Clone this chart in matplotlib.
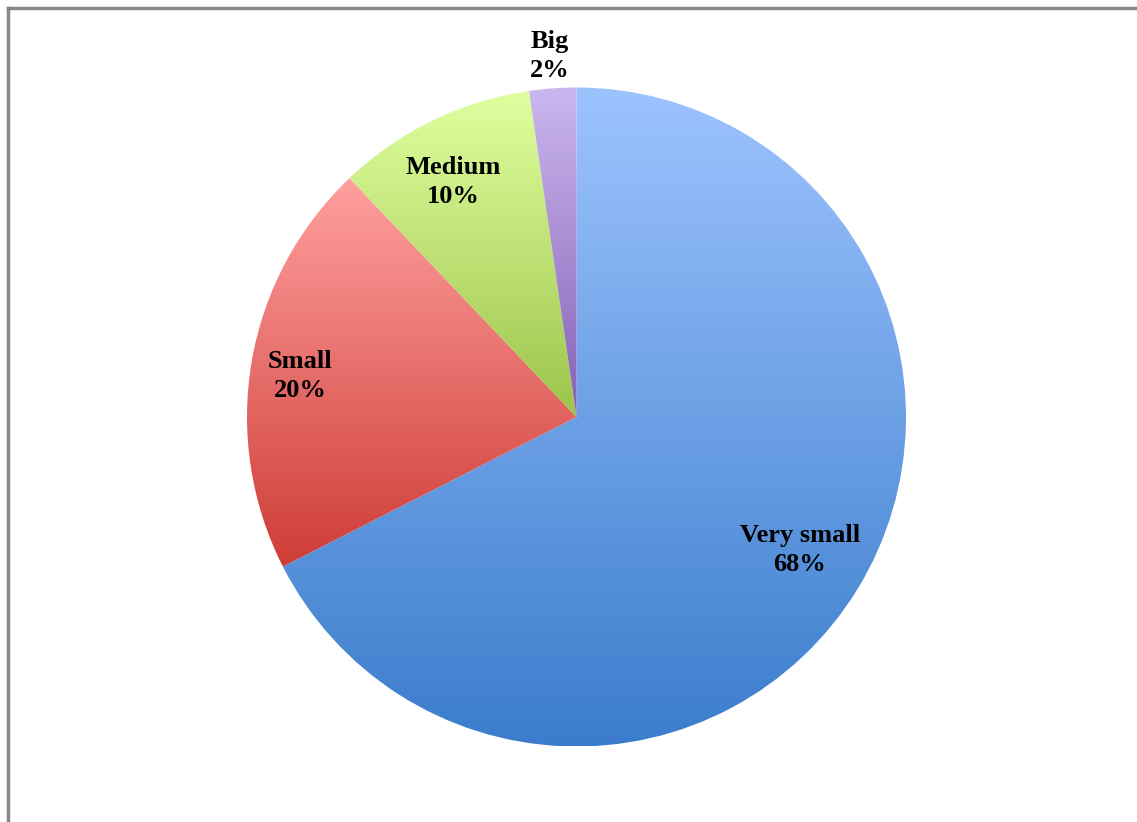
import numpy as np
import matplotlib
matplotlib.use("Agg")
import matplotlib.pyplot as plt
from matplotlib.colors import to_rgb

# --- data ---
labels = ["Very small", "Small", "Medium", "Big"]
shares = [67.5, 20.4, 9.8, 2.3]
top_colors = ["#9dc3ff", "#ffa09f", "#e0ffa0", "#cbb7ef"]
bottom_colors = ["#3b7dcc", "#ce3d37", "#9cc44a", "#8561b4"]
label_pos = [(800, 550), (300, 376), (453, 182), (550, 56)]

W, H = 1137, 822
fig = plt.figure(figsize=(W / 100, H / 100), dpi=100)
ax = fig.add_axes([0, 0, 1, 1])

# --- pie, clockwise from the top ---
wedges, _ = ax.pie(shares, startangle=90, counterclock=False,
                   center=(576.5, H - 417), radius=329.5,
                   frame=True, wedgeprops=dict(linewidth=0))

# vertical gradient inside each slice
for w, c_top, c_bot in zip(wedges, top_colors, bottom_colors):
    w.set_facecolor("none")
    ext = w.get_path().get_extents()
    t = np.linspace(0, 1, 256)[:, None]
    grad = (1 - t) * np.array(to_rgb(c_bot)) + t * np.array(to_rgb(c_top))
    img = ax.imshow(grad[:, None, :], extent=(ext.x0, ext.x1, ext.y0, ext.y1),
                    origin="lower", aspect="auto", interpolation="bilinear",
                    zorder=1)
    img.set_clip_path(w)

ax.set_xlim(0, W)
ax.set_ylim(0, H)
ax.axis("off")

# --- labels ---
for name, s, (x, y) in zip(labels, shares, label_pos):
    ax.text(x, H - y, f"{name}\n{round(s)}%", ha="center", va="center",
            fontsize=19, fontweight="bold", family="Liberation Serif",
            linespacing=1.3, zorder=3)

# frame lines (left and top only are visible)
ax.plot([7.5, 7.5], [0, H - 8.5], color="#888888", lw=2.5, zorder=4, clip_on=False)
ax.plot([7.5, W], [H - 8.5, H - 8.5], color="#888888", lw=2.5, zorder=4, clip_on=False)

fig.savefig("out.png", dpi=100)
